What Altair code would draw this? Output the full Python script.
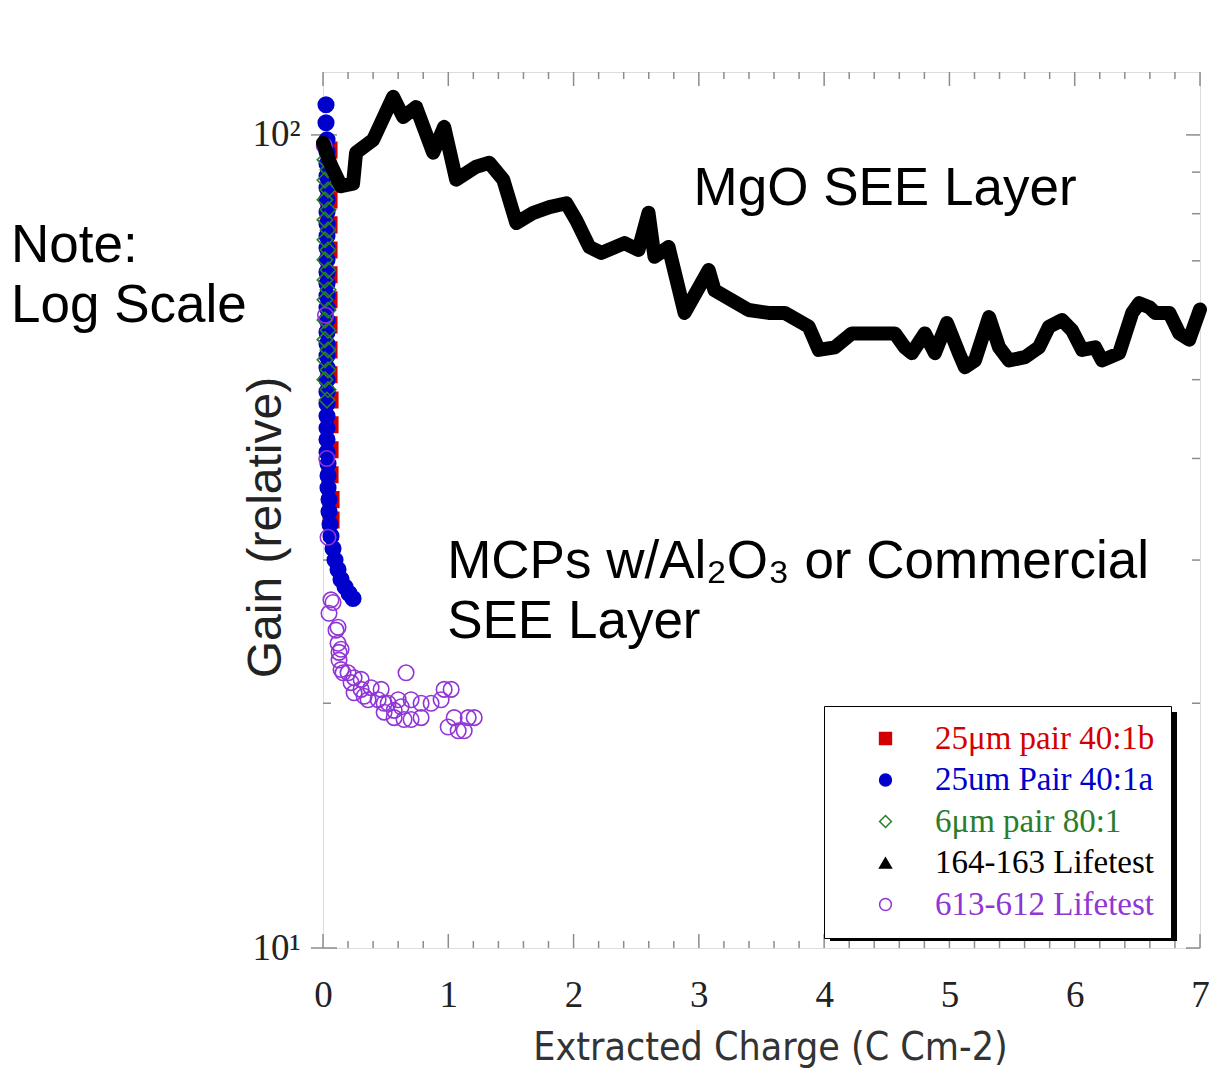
import altair as alt
import pandas as pd

# ---------------------------------------------------------------------------
# Gain vs. extracted charge
# ---------------------------------------------------------------------------

# 164-163 Lifetest (MgO SEE layer) - extracted charge (C/cm^2) and relative gain
mgo_charge = [0.0, 0.064, 0.144, 0.24, 0.264, 0.40, 0.56, 0.64, 0.743, 0.879,
              0.967, 1.063, 1.223, 1.327, 1.439, 1.543, 1.679, 1.807, 1.942, 2.022,
              2.126, 2.222, 2.406, 2.518, 2.598, 2.646, 2.758, 2.886, 3.078, 3.125,
              3.397, 3.557, 3.685, 3.877, 3.957, 4.085, 4.221, 4.564, 4.644, 4.70,
              4.804, 4.884, 4.980, 5.076, 5.124, 5.204, 5.316, 5.396, 5.476, 5.604,
              5.715, 5.795, 5.899, 5.979, 6.059, 6.163, 6.219, 6.355, 6.459, 6.515,
              6.595, 6.643, 6.755, 6.835, 6.914, 7.0]
mgo_gain = [97.8, 91.8, 86.5, 87.1, 95.1, 98.6, 111.4, 105.2, 108.2, 95.1,
            102.3, 88.1, 91.4, 92.4, 88.1, 77.9, 80.2, 81.5, 82.4, 78.5,
            72.8, 71.6, 73.6, 72.2, 80.2, 70.8, 72.8, 60.4, 68.2, 64.4,
            60.9, 60.4, 60.4, 58.1, 54.4, 54.8, 57.0, 57.0, 54.8, 53.9,
            57.0, 53.9, 58.7, 53.9, 51.8, 52.8, 59.7, 54.8, 52.8, 53.3,
            54.8, 58.1, 59.2, 57.5, 54.4, 54.8, 52.8, 53.9, 60.4, 62.1,
            61.4, 60.4, 60.4, 57.0, 56.0, 61.0]

# 25um pair 40:1b
red_charge = [0.048, 0.048, 0.048, 0.048, 0.048, 0.048, 0.048, 0.048, 0.048,
              0.048, 0.056, 0.056, 0.056, 0.056, 0.064, 0.064]
red_gain = [95.8, 89.3, 83.2, 77.5, 72.2, 67.3, 62.7, 58.4, 54.4,
            50.7, 47.2, 44.0, 41.0, 38.2, 35.6, 33.6]

# 25um Pair 40:1a
blue_charge = [0.024, 0.024,
               0.032, 0.032, 0.032, 0.032, 0.032, 0.032, 0.032, 0.032, 0.032,
               0.032, 0.032, 0.032, 0.032, 0.032, 0.032, 0.032, 0.032, 0.032,
               0.032, 0.032, 0.032, 0.032, 0.032, 0.032, 0.032, 0.032, 0.032,
               0.040, 0.040, 0.040, 0.048, 0.048, 0.056, 0.064, 0.080, 0.096,
               0.120, 0.144, 0.176, 0.208, 0.240]
blue_gain = [108.9, 103.5,
             98.6, 95.3, 92.1, 89.0, 86.1, 83.2, 80.4, 77.7, 75.1,
             72.6, 70.2, 67.8, 65.6, 63.4, 61.3, 59.2, 57.2, 55.3,
             53.5, 51.7, 50.0, 48.3, 46.7, 45.1, 43.6, 42.2, 40.7,
             39.4, 38.1, 36.8, 35.6, 34.4, 33.2, 32.1, 31.0, 30.0,
             29.2, 28.4, 27.8, 27.3, 26.9]

# 6um pair 80:1
green_charge = [0.016, 0.040, 0.016, 0.040, 0.016, 0.040, 0.016, 0.040, 0.016,
                0.040, 0.016, 0.040, 0.016, 0.040, 0.016, 0.040, 0.016, 0.040,
                0.016, 0.040, 0.016, 0.040, 0.016, 0.040, 0.032]
green_gain = [93.2, 90.6, 88.0, 85.6, 83.2, 80.9, 78.6, 76.4, 74.3,
              72.2, 70.2, 68.2, 66.3, 64.5, 62.7, 60.9, 59.2, 57.5,
              56.0, 54.4, 52.9, 51.4, 50.0, 48.6, 47.2]

# 613-612 Lifetest
purple_charge = [0.010, 0.020, 0.030, 0.040, 0.064, 0.048, 0.080, 0.104, 0.120,
                 0.120, 0.128, 0.144, 0.128, 0.144, 0.160, 0.200, 0.224, 0.248,
                 0.248, 0.304, 0.304, 0.328, 0.360, 0.384, 0.440, 0.464, 0.488,
                 0.488, 0.520, 0.568, 0.568, 0.600, 0.624, 0.647, 0.663, 0.703,
                 0.703, 0.783, 0.783, 0.863, 0.943, 0.967, 0.999, 1.023, 1.047,
                 1.079, 1.127, 1.159, 1.207]
purple_gain = [97.0, 60.0, 40.0, 32.0, 26.8, 25.8, 26.6, 24.6, 24.8,
               23.7, 23.1, 23.3, 22.6, 22.0, 21.8, 21.8, 21.2, 21.5,
               20.6, 21.4, 20.8, 20.4, 20.2, 20.9, 20.2, 20.8, 20.0,
               19.5, 20.0, 19.6, 19.2, 20.2, 19.8, 19.1, 21.8, 20.2,
               19.1, 20.0, 19.2, 20.0, 20.2, 20.8, 18.7, 20.8, 19.2,
               18.5, 18.5, 19.2, 19.2]

# Series legend entries and their symbol styles
series_names = ["25μm pair 40:1b", "25um Pair 40:1a", "6μm pair 80:1",
                "164-163 Lifetest", "613-612 Lifetest"]
series_fill = ["#d40000", "#0000cc", "transparent", "#000000", "transparent"]
series_stroke = ["#d40000", "#0000cc", "#2b7d2b", "#000000", "#9035d6"]
series_shape = ["square", "circle", "diamond", "triangle-up", "circle"]

# Axis tick positions
x_major = [0, 1, 2, 3, 4, 5, 6, 7]
x_minor = [i / 5 for i in range(36) if i % 5]
y_major = [10, 100]
y_minor = [20, 30, 40, 50, 60, 70, 80, 90]

# Annotations (text, charge, gain at baseline)
notes_text = ["Note:", "Log Scale", "MgO SEE Layer",
              "MCPs w/Al₂O₃ or Commercial", "SEE Layer"]
notes_x = [-2.49, -2.49, 2.958, 0.991, 0.991]
notes_y = [69.8, 58.9, 82.0, 28.5, 24.06]

# ---------------------------------------------------------------------------
W, H = 877, 876

points = pd.concat([
    pd.DataFrame({"x": red_charge, "y": red_gain, "series": series_names[0]}),
    pd.DataFrame({"x": blue_charge, "y": blue_gain, "series": series_names[1]}),
    pd.DataFrame({"x": green_charge, "y": green_gain, "series": series_names[2]}),
    pd.DataFrame({"x": purple_charge, "y": purple_gain, "series": series_names[4]}),
], ignore_index=True)
mgo = pd.DataFrame({"x": mgo_charge, "y": mgo_gain})
notes = pd.DataFrame({"text": notes_text, "x": notes_x, "y": notes_y})

x_scale = alt.Scale(domain=[0, 7], nice=False, zero=False)
y_scale = alt.Scale(type="log", domain=[10, 119.5], nice=False)

x_axis = alt.Axis(values=x_major, format="d", domain=False, ticks=False, grid=False,
                  labelFont="Liberation Serif", labelFontSize=37, labelColor="#222",
                  labelPadding=29, labelFlush=False,
                  title="Extracted Charge (C Cm-2)", titleFont="DejaVu Sans Condensed",
                  titleFontSize=39, titleFontWeight="normal", titleColor="#333",
                  titleX=447, titleY=111, titleBaseline="alphabetic", titleAlign="center")
y_axis = alt.Axis(values=y_major, domain=False, ticks=False, grid=False,
                  labelExpr="datum.value == 10 ? '10¹' : '10²'",
                  labelFont="Liberation Serif", labelFontSize=37, labelColor="#222",
                  labelPadding=23, labelBaseline="middle",
                  title="Gain (relative)", titleFont="Liberation Sans",
                  titleFontSize=48, titleFontWeight="normal", titleColor="#222",
                  titleAngle=270, titleX=-43, titleY=455,
                  titleBaseline="alphabetic", titleAlign="center")

x_enc = alt.X("x:Q", scale=x_scale, axis=x_axis)
y_enc = alt.Y("y:Q", scale=y_scale, axis=y_axis)

label_colors = "[" + ",".join(f"'{c}'" for c in series_stroke) + "]"
label_names = "[" + ",".join(f"'{n}'" for n in series_names) + "]"
legend = alt.Legend(
    title=None, orient="none", legendX=501, legendY=634, direction="vertical",
    padding=16, strokeColor="#000", fillColor="white",
    symbolOffset=29, labelOffset=33, rowPadding=7.5,
    symbolSize=140, symbolStrokeWidth=1.5,
    labelFont="Liberation Serif", labelFontSize=33, labelLimit=500,
    labelColor={"expr": f"{label_colors}[indexof({label_names}, datum.value)]"},
)

series_field = "series:N"
scatter = alt.Chart(points).mark_point(size=240, strokeWidth=1.6, opacity=1).encode(
    x=x_enc,
    y=y_enc,
    fill=alt.Fill(series_field, scale=alt.Scale(domain=series_names, range=series_fill), legend=legend),
    stroke=alt.Stroke(series_field, scale=alt.Scale(domain=series_names, range=series_stroke), legend=legend),
    shape=alt.Shape(series_field, scale=alt.Scale(domain=series_names, range=series_shape), legend=legend),
)

mgo_line = alt.Chart(mgo).mark_line(color="#000", strokeWidth=14,
                                    strokeJoin="round", strokeCap="round").encode(x=x_enc, y=y_enc)

annotations = alt.Chart(notes).mark_text(
    align="left", baseline="alphabetic", font="Liberation Sans", fontSize=53, color="#000"
).encode(x=x_enc, y=y_enc, text="text:N")

# drop shadow behind the legend box
legend_shadow = alt.Chart(pd.DataFrame({"k": [0]})).mark_rect(color="#000").encode(
    x=alt.value(507), x2=alt.value(854), y=alt.value(640), y2=alt.value(869)
)

tick_style = dict(color="#8c8c8c", strokeWidth=1.5)
xmaj = pd.DataFrame({"x": x_major})
xmin = pd.DataFrame({"x": x_minor})
ymaj = pd.DataFrame({"y": y_major})
ymin = pd.DataFrame({"y": y_minor})

ticks = [
    alt.Chart(xmaj).mark_rule(**tick_style).encode(x=x_enc, y=alt.value(H), y2=alt.value(H - 14)),
    alt.Chart(xmin).mark_rule(**tick_style).encode(x=x_enc, y=alt.value(H), y2=alt.value(H - 7)),
    alt.Chart(xmaj).mark_rule(**tick_style).encode(x=x_enc, y=alt.value(0), y2=alt.value(14)),
    alt.Chart(xmin).mark_rule(**tick_style).encode(x=x_enc, y=alt.value(0), y2=alt.value(7)),
    alt.Chart(ymaj).mark_rule(**tick_style).encode(y=y_enc, x=alt.value(W), x2=alt.value(W - 14)),
    alt.Chart(ymin).mark_rule(**tick_style).encode(y=y_enc, x=alt.value(W), x2=alt.value(W - 8)),
    alt.Chart(ymaj).mark_rule(**tick_style).encode(y=y_enc, x=alt.value(-12), x2=alt.value(14)),
    alt.Chart(ymin).mark_rule(**tick_style).encode(y=y_enc, x=alt.value(0), x2=alt.value(8)),
]

chart = alt.layer(*ticks, legend_shadow, scatter, mgo_line, annotations).properties(
    width=W, height=H,
    autosize=alt.AutoSizeParams(type="none"),
    padding={"left": 323, "top": 72, "right": 9, "bottom": 120},
).configure_view(stroke="#1a1a1a", strokeWidth=2.5).configure(background="white")

chart.save("out.html", embed_options={"renderer": "svg", "actions": False})
